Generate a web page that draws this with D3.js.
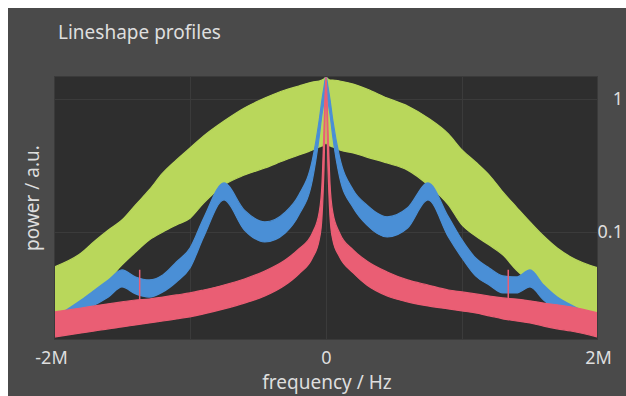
<!DOCTYPE html>
<html>
<head>
<meta charset="utf-8">
<script src="https://cdn.jsdelivr.net/npm/d3@7"></script>
<style>
  html, body { margin: 0; padding: 0; background: #fff; }
  svg { display: block; font-family: "Noto Sans", "Open Sans", sans-serif; }
</style>
</head>
<body>
<div id="chart"></div>
<script>
// frequency grid, in MHz
const freq = [-2, -1.8, -1.7, -1.6, -1.5, -1.4, -1.3, -1.2, -1.1, -1.0, -0.9, -0.75, -0.6, -0.45, -0.3, -0.2, -0.1, -0.05, -0.03, -0.015,
  0, 0.015, 0.03, 0.05, 0.1, 0.2, 0.3, 0.45, 0.6, 0.75, 0.9, 1.0, 1.1, 1.2, 1.3, 1.4, 1.5, 1.6, 1.7, 1.8, 2];

// power / a.u. - each profile is a noisy band, kept as upper and lower envelope
const greenHigh = [0.0545, 0.0695, 0.0855, 0.1035, 0.123, 0.160, 0.207, 0.278, 0.348, 0.428, 0.527, 0.683, 0.856, 1.017, 1.169, 1.252, 1.342, 1.366, 1.390, 1.414,
  1.463, 1.414, 1.390, 1.390, 1.366, 1.296, 1.189, 1.017, 0.886, 0.720, 0.546, 0.414, 0.336, 0.268, 0.200, 0.154, 0.119, 0.0933, 0.0758, 0.0649, 0.0536];
const greenLow = [0.0246, 0.0292, 0.0354, 0.0436, 0.0565, 0.0707, 0.0871, 0.100, 0.113, 0.127, 0.165, 0.226, 0.268, 0.303, 0.348, 0.379, 0.414, 0.436, 0.443, 0.451,
  0.467, 0.451, 0.443, 0.436, 0.414, 0.393, 0.366, 0.330, 0.292, 0.226, 0.160, 0.113, 0.0933, 0.0798, 0.0672, 0.0518, 0.0421, 0.0336, 0.0288, 0.0259, 0.0246];

const blueHigh = [0.0226, 0.0308, 0.0366, 0.0436, 0.0518, 0.0459, 0.0436, 0.0475, 0.0595, 0.0758, 0.127, 0.234, 0.146, 0.119, 0.141, 0.190, 0.348, 0.695, 0.983, 1.231,
  1.489, 1.231, 0.983, 0.695, 0.366, 0.207, 0.160, 0.130, 0.152, 0.234, 0.130, 0.0871, 0.0637, 0.0536, 0.0467, 0.0459, 0.0518, 0.0399, 0.0324, 0.0283, 0.0226];
const blueLow = [0.0183, 0.0250, 0.0283, 0.0324, 0.0386, 0.0342, 0.0324, 0.0354, 0.0421, 0.0536, 0.0917, 0.174, 0.1035, 0.0841, 0.0983, 0.134, 0.246, 0.518, 0.758, 0.949,
  1.169, 0.949, 0.758, 0.518, 0.259, 0.152, 0.113, 0.0917, 0.107, 0.174, 0.0917, 0.0637, 0.0467, 0.0399, 0.0348, 0.0348, 0.0386, 0.0308, 0.0259, 0.0238, 0.0183];

const redHigh = [0.0250, 0.0268, 0.0278, 0.0288, 0.0298, 0.0308, 0.0313, 0.0324, 0.0336, 0.0348, 0.0366, 0.0399, 0.0443, 0.0509, 0.0616, 0.0745, 0.0983, 0.141, 0.226, 0.585,
  1.489, 0.585, 0.226, 0.141, 0.0983, 0.0732, 0.0605, 0.0500, 0.0436, 0.0399, 0.0366, 0.0354, 0.0342, 0.0330, 0.0319, 0.0313, 0.0303, 0.0292, 0.0283, 0.0273, 0.0246];
const redLow = [0.0162, 0.0174, 0.0180, 0.0187, 0.0193, 0.0200, 0.0207, 0.0214, 0.0222, 0.0230, 0.0242, 0.0264, 0.0292, 0.0330, 0.0399, 0.0483, 0.0637, 0.0871, 0.127, 0.292,
  1.129, 0.292, 0.127, 0.0871, 0.0649, 0.0492, 0.0399, 0.0330, 0.0298, 0.0278, 0.0264, 0.0255, 0.0246, 0.0234, 0.0222, 0.0214, 0.0207, 0.0196, 0.0187, 0.0180, 0.0162];

// narrow spurs sticking out of the red band
const spikeFreq = [-1.37, 1.34];
const spikeTop = [0.052, 0.052];

const xTicks = [-2, 0, 2];
const xTickLabels = ['-2M', '0', '2M'];
const yTicks = [1, 0.1];
const yTickLabels = ['1', '0.1'];

const W = 626, H = 396;
const plot = { left: 54, top: 76, right: 598, bottom: 340 };

const colors = {
  panel: '#4a4a4a',
  plotBg: '#2e2e2e',
  grid: '#3b3b3b',
  text: '#dedede',
  green: '#b9d75b',
  blue: '#4a8fd6',
  red: '#ea5e74'
};

const svg = d3.select('#chart').append('svg')
  .attr('width', W)
  .attr('height', H);

svg.append('rect').attr('width', W).attr('height', H).attr('fill', '#fff');
svg.append('rect')
  .attr('x', 8).attr('y', 8)
  .attr('width', W - 8).attr('height', H - 8)
  .attr('fill', colors.panel);

const x = d3.scaleLinear().domain([-2, 2]).range([plot.left, plot.right]);
const y = d3.scaleLog().domain([0.0154, 1.49]).range([plot.bottom, plot.top]);

svg.append('rect')
  .attr('x', plot.left).attr('y', plot.top)
  .attr('width', plot.right - plot.left).attr('height', plot.bottom - plot.top)
  .attr('fill', colors.plotBg);

svg.append('clipPath').attr('id', 'clip')
  .append('rect')
  .attr('x', plot.left).attr('y', plot.top)
  .attr('width', plot.right - plot.left).attr('height', plot.bottom - plot.top);

// grid
const grid = svg.append('g').attr('stroke', colors.grid).attr('stroke-width', 1);
grid.selectAll('line.v')
  .data([-1, 0, 1])
  .join('line')
  .attr('x1', d => x(d) + 0.5).attr('x2', d => x(d) + 0.5)
  .attr('y1', plot.top).attr('y2', plot.bottom);
grid.selectAll('line.h')
  .data(yTicks)
  .join('line')
  .attr('x1', plot.left).attr('x2', plot.right)
  .attr('y1', d => Math.round(y(d)) + 0.5).attr('y2', d => Math.round(y(d)) + 0.5);

// profiles
const rows = freq.map((f, i) => ({
  f,
  gh: greenHigh[i], gl: greenLow[i],
  bh: blueHigh[i], bl: blueLow[i],
  rh: redHigh[i], rl: redLow[i]
}));

const series = [
  { hi: 'gh', lo: 'gl', color: colors.green },
  { hi: 'bh', lo: 'bl', color: colors.blue },
  { hi: 'rh', lo: 'rl', color: colors.red }
];

const layer = svg.append('g').attr('clip-path', 'url(#clip)');

series.forEach(s => {
  const area = d3.area()
    .curve(d3.curveMonotoneX)
    .x(d => x(d.f))
    .y0(d => y(d[s.lo]))
    .y1(d => y(d[s.hi]));
  layer.append('path')
    .datum(rows)
    .attr('d', area)
    .attr('fill', s.color)
    .attr('stroke', s.color)
    .attr('stroke-width', 1.2)
    .attr('stroke-linejoin', 'round');
});

layer.selectAll('line.spike')
  .data(spikeFreq.map((f, i) => ({ f, top: spikeTop[i] })))
  .join('line')
  .attr('x1', d => x(d.f)).attr('x2', d => x(d.f))
  .attr('y1', d => y(d.top))
  .attr('y2', d => y(redHigh[d3.bisectLeft(freq, d.f)]) + 2)
  .attr('stroke', colors.red)
  .attr('stroke-width', 1.5);

// frame
svg.append('rect')
  .attr('x', plot.left + 0.5).attr('y', plot.top + 0.5)
  .attr('width', plot.right - plot.left - 1).attr('height', plot.bottom - plot.top - 1)
  .attr('fill', 'none')
  .attr('stroke', '#3a3a3a');

// axes
const xAxis = d3.axisBottom(x)
  .tickValues(xTicks)
  .tickFormat((d, i) => xTickLabels[i])
  .tickSize(0)
  .tickPadding(11);
const gx = svg.append('g')
  .attr('transform', `translate(0,${plot.bottom})`)
  .call(xAxis);
gx.select('.domain').remove();
gx.selectAll('text')
  .attr('fill', colors.text)
  .attr('font-size', 18)
  .attr('font-family', '"Noto Sans", sans-serif');
gx.selectAll('.tick').filter((d, i) => i === 0).select('text').attr('dx', -3);

const yAxis = d3.axisRight(y)
  .tickValues(yTicks)
  .tickFormat((d, i) => yTickLabels[i])
  .tickSize(0)
  .tickPadding(0);
const gy = svg.append('g')
  .attr('transform', `translate(623,0)`)
  .call(yAxis);
gy.select('.domain').remove();
gy.selectAll('text')
  .attr('fill', colors.text)
  .attr('font-size', 18)
  .attr('text-anchor', 'end')
  .attr('font-family', '"Noto Sans", sans-serif');

// titles
svg.append('text')
  .attr('x', 58).attr('y', 39)
  .attr('fill', colors.text)
  .attr('font-size', 19)
  .text('Lineshape profiles');

svg.append('text')
  .attr('x', 327).attr('y', 389)
  .attr('text-anchor', 'middle')
  .attr('fill', colors.text)
  .attr('font-size', 19)
  .text('frequency / Hz');

svg.append('text')
  .attr('transform', 'translate(39,198) rotate(-90)')
  .attr('text-anchor', 'middle')
  .attr('fill', colors.text)
  .attr('font-size', 19)
  .text('power / a.u.');
</script>
</body>
</html>
